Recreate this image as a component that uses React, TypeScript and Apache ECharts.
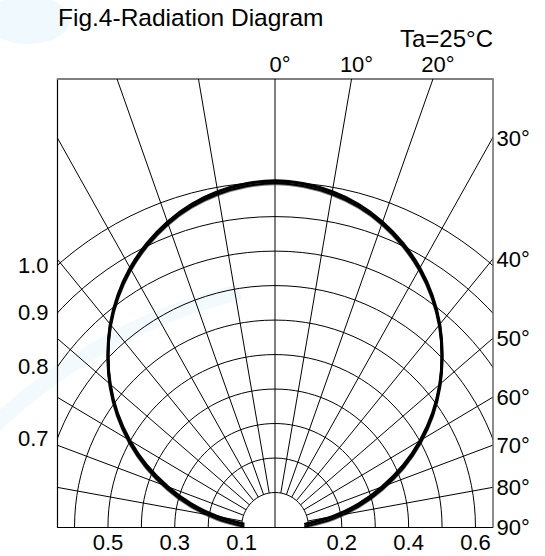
import React, { useEffect, useRef } from "react";
import * as echarts from "echarts";

// ---- data ----
const RING_VALUES = [0.1, 0.2, 0.3, 0.4, 0.5, 0.6, 0.7, 0.8, 0.9, 1.0];
const SPOKE_ANGLES = [-80, -70, -60, -50, -40, -30, -20, -10, 0, 10, 20, 30, 40, 50, 60, 70, 80];
const BOTTOM_LABELS = [-0.5, -0.3, -0.1, 0.2, 0.4, 0.6];
const LEFT_LABELS = [0.7, 0.8, 0.9, 1.0];
const TOP_ANGLE_LABELS = [0, 10, 20];
const RIGHT_ANGLE_LABELS = [30, 40, 50, 60, 70, 80, 90];

const CURVE_ANGLES = [
  -85, -80, -75, -70, -65, -60, -55, -50, -45, -40, -35, -30, -25, -20, -15, -10, -5,
  0, 5, 10, 15, 20, 25, 30, 35, 40, 45, 50, 55, 60, 65, 70, 75, 80, 85,
];
const CURVE_INTENSITY = [
  0.092, 0.176, 0.26, 0.341, 0.424, 0.502, 0.576, 0.644, 0.707, 0.767, 0.82, 0.867, 0.907, 0.941, 0.968, 0.987, 0.999,
  1.004, 0.999, 0.987, 0.968, 0.941, 0.907, 0.867, 0.82, 0.767, 0.707, 0.644, 0.576, 0.502, 0.424, 0.341, 0.26, 0.176, 0.088,
];

// axis extents (relative intensity units)
const X_EXTENT = 0.651;
const Y_EXTENT = 1.299;
const SPOKE_START = 0.1;
const SPOKE_END = 2;

const FONT = '"Liberation Sans", Arial, Helvetica, sans-serif';
const RAD = Math.PI / 180;

function polarToXY(r: number, deg: number): number[] {
  return [r * Math.sin(deg * RAD), r * Math.cos(deg * RAD)];
}

function clipRect(params: any) {
  const cs = params.coordSys;
  return { type: "rect", shape: { x: cs.x, y: cs.y, width: cs.width, height: cs.height } };
}

const labelBase = { fontSize: 22, color: "#000", fontFamily: FONT };

function buildOption(): any {
  return {
    animation: false,
    backgroundColor: "#ffffff",
    title: {
      text: "Fig.4-Radiation Diagram",
      left: 58,
      top: 5,
      padding: 0,
      textStyle: { fontSize: 24.5, fontWeight: "normal", color: "#000", fontFamily: FONT },
    },
    graphic: [
      {
        type: "group",
        z: -10,
        silent: true,
        children: [
          {
            type: "ellipse",
            shape: { cx: 28, cy: 20, rx: 42, ry: 24 },
            style: { fill: "#e2f3fb", opacity: 0.5 },
          },
          {
            type: "bezierCurve",
            shape: { x1: -10, y1: 430, cpx1: 50, cpy1: 370, cpx2: 140, cpy2: 315, x2: 240, y2: 292 },
            style: { stroke: "#e8f5fb", lineWidth: 16, fill: "none", opacity: 0.55 },
          },
        ],
      },
      {
        type: "text",
        left: 400,
        top: 26,
        style: { text: "Ta=25°C", font: `24px ${FONT}`, fill: "#000" },
      },
    ],
    grid: { left: 57.5, right: 52.5, top: 79, bottom: 29, containLabel: false },
    xAxis: [
      {
        type: "value",
        position: "bottom",
        min: -X_EXTENT,
        max: X_EXTENT,
        axisLine: { show: true, onZero: false, lineStyle: { color: "#000", width: 1.2 } },
        axisTick: { show: false },
        splitLine: { show: false },
        axisLabel: {
          ...labelBase,
          customValues: BOTTOM_LABELS,
          formatter: (v: number) => Math.abs(v).toFixed(1),
          margin: 4,
        },
      },
      {
        type: "value",
        position: "top",
        min: -X_EXTENT,
        max: X_EXTENT,
        axisLine: { show: true, onZero: false, lineStyle: { color: "#808080", width: 1.8 } },
        axisTick: { show: false },
        splitLine: { show: false },
        axisLabel: {
          ...labelBase,
          customValues: TOP_ANGLE_LABELS.map((a) => Y_EXTENT * Math.tan(a * RAD)),
          formatter: (v: number) => Math.round(Math.atan(v / Y_EXTENT) / RAD) + "°",
          margin: 4,
          padding: [0, 0, 0, 10],
        },
      },
    ],
    yAxis: [
      {
        type: "value",
        position: "left",
        min: 0,
        max: Y_EXTENT,
        axisLine: { show: true, onZero: false, lineStyle: { color: "#000", width: 1.2 } },
        axisTick: { show: false },
        splitLine: { show: false },
        axisLabel: {
          ...labelBase,
          customValues: LEFT_LABELS.map((r) => Math.sqrt(r * r - X_EXTENT * X_EXTENT)),
          formatter: (v: number) => Math.sqrt(v * v + X_EXTENT * X_EXTENT).toFixed(1),
          margin: 9,
        },
      },
      {
        type: "value",
        position: "right",
        min: 0,
        max: Y_EXTENT,
        axisLine: { show: true, onZero: false, lineStyle: { color: "#808080", width: 1.8 } },
        axisTick: { show: false },
        splitLine: { show: false },
        axisLabel: {
          ...labelBase,
          customValues: RIGHT_ANGLE_LABELS.map((a) => (a === 90 ? 0 : X_EXTENT / Math.tan(a * RAD))),
          formatter: (v: number) => Math.round(Math.atan2(X_EXTENT, v) / RAD) + "°",
          margin: 4,
          padding: [0, 0, 6, 0],
        },
      },
    ],
    series: [
      {
        type: "custom",
        name: "rings",
        coordinateSystem: "cartesian2d",
        silent: true,
        z: 1,
        encode: { x: 0, y: 1 },
        data: RING_VALUES.map((r) => [0, 0, r]),
        renderItem: (params: any, api: any) => {
          const r = api.value(2);
          const c = api.coord([0, 0]);
          const e = api.coord([r, r]);
          return {
            type: "group",
            clipPath: clipRect(params),
            children: [
              {
                type: "ellipse",
                shape: { cx: c[0], cy: c[1], rx: e[0] - c[0], ry: c[1] - e[1] },
                style: { fill: "none", stroke: "#000", lineWidth: 1 },
              },
            ],
          };
        },
      },
      {
        type: "custom",
        name: "spokes",
        coordinateSystem: "cartesian2d",
        silent: true,
        z: 1,
        encode: { x: 0, y: 1 },
        data: SPOKE_ANGLES.map((a) => [0, 0, a]),
        renderItem: (params: any, api: any) => {
          const a = api.value(2);
          const r0 = a === 0 ? 0 : SPOKE_START;
          const p0 = api.coord(polarToXY(r0, a));
          const p1 = api.coord(polarToXY(SPOKE_END, a));
          return {
            type: "group",
            clipPath: clipRect(params),
            children: [
              {
                type: "line",
                shape: { x1: p0[0], y1: p0[1], x2: p1[0], y2: p1[1] },
                style: { stroke: "#000", lineWidth: 1 },
              },
            ],
          };
        },
      },
      {
        type: "line",
        name: "radiation",
        silent: true,
        z: 5,
        symbol: "none",
        smooth: 0.3,
        data: CURVE_ANGLES.map((a, i) => polarToXY(CURVE_INTENSITY[i], a)),
        lineStyle: { color: "#000", width: 3, shadowColor: "#000", shadowOffsetY: 2.5, shadowBlur: 0 },
      },
    ],
  };
}

export default function App() {
  const ref = useRef<HTMLDivElement>(null);
  useEffect(() => {
    const chart = echarts.init(ref.current as HTMLDivElement, null, { renderer: "svg" });
    chart.setOption(buildOption());
    return () => chart.dispose();
  }, []);
  return (
    <div
      ref={ref}
      style={{ position: "absolute", left: 0, top: 0, width: 545, height: 556, background: "#fff" }}
    />
  );
}
